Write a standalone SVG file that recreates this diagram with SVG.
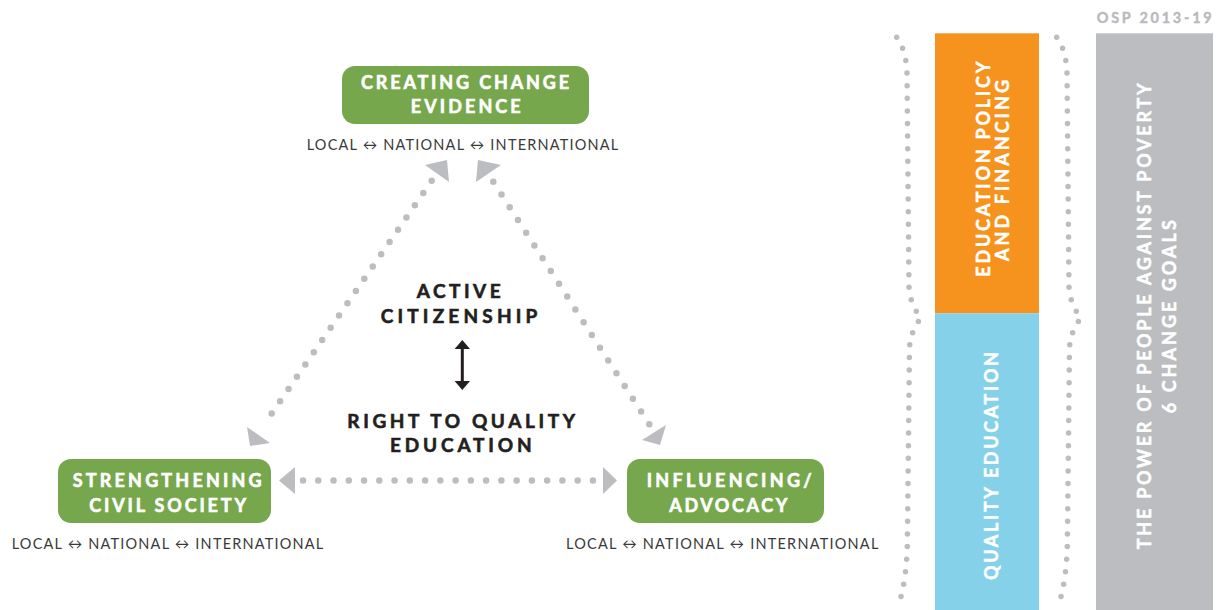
<svg xmlns="http://www.w3.org/2000/svg" width="1218" height="610" viewBox="0 0 1218 610">
<style>
.node{fill:#77a74c}
.nt{font-family:Lato,"Open Sans","Liberation Sans",sans-serif;font-weight:700;font-size:18px;fill:#ffffff;stroke:#ffffff;stroke-width:0.6;text-anchor:middle}
.sub{font-family:Lato,"Open Sans","DejaVu Sans",sans-serif;font-weight:400;font-size:14.5px;fill:#3a3a3a;text-anchor:middle}
.ct{font-family:Lato,"Open Sans","Liberation Sans",sans-serif;font-weight:700;font-size:19px;fill:#231f20;stroke:#231f20;stroke-width:0.6;text-anchor:middle}
.vt{font-family:Lato,"Open Sans","Liberation Sans",sans-serif;font-weight:700;font-size:18px;fill:#ffffff;stroke:#ffffff;stroke-width:0.5;text-anchor:middle}
.dots{fill:none;stroke:#bcbdc1;stroke-linecap:round;stroke-width:6.5}
.vdots{fill:none;stroke:#bcbdc1;stroke-linecap:round;stroke-width:5.5;stroke-dasharray:0 12.6}
.ah{fill:#bcbdc1}
</style>

<g id="bars">
<rect x="935" y="33.3" width="104" height="280" fill="#f6921e"/>
<rect x="935" y="313.3" width="104" height="297" fill="#86d1ea"/>
<rect x="1096" y="33.3" width="117" height="577" fill="#bcbdc1"/>
<text class="vt" transform="translate(989.5,169.2) rotate(-90)" textLength="215" lengthAdjust="spacing">EDUCATION POLICY</text>
<text class="vt" transform="translate(1008.5,170.5) rotate(-90)" textLength="181" lengthAdjust="spacing">AND FINANCING</text>
<text class="vt" transform="translate(998,466) rotate(-90)" textLength="228" lengthAdjust="spacing">QUALITY EDUCATION</text>
<text class="vt" transform="translate(1150.5,316.3) rotate(-90)" textLength="466" lengthAdjust="spacing">THE POWER OF PEOPLE AGAINST POVERTY</text>
<text class="vt" transform="translate(1176,316.7) rotate(-90)" textLength="193" lengthAdjust="spacing">6 CHANGE GOALS</text>
<text x="1154.2" y="22.7" font-family="Lato,'Open Sans','Liberation Sans',sans-serif" font-weight="700" font-size="14.5" fill="#b9babd" stroke="#b9babd" stroke-width="0.4" text-anchor="middle" textLength="115" lengthAdjust="spacing">OSP 2013-19</text>
</g>

<g id="connectors">
<line class="dots" x1="431.7" y1="180.7" x2="263.3" y2="425.7" stroke-dasharray="0 14.87"/>
<line class="dots" x1="493.3" y1="181.7" x2="649.3" y2="424.3" stroke-dasharray="0 15.18"/>
<line class="dots" x1="303" y1="480.5" x2="593" y2="480.5" stroke-dasharray="0 15.26"/>
<polygon class="ah" points="425,165 447,160 449,182"/>
<polygon class="ah" points="478,160 501,165 476,182"/>
<polygon class="ah" points="247,427 270,443 250,446"/>
<polygon class="ah" points="642,440 666,425 660,445"/>
<polygon class="ah" points="279,480.5 295,467 295,494"/>
<polygon class="ah" points="617,480.5 603,467 603,494"/>
<path class="vdots" d="M896.7,37.3 Q906,50 907,72 L909,288 Q910.5,305 921,318 Q910.5,331 909.5,348 L907.3,547 Q906,585 897.3,608.3"/>
<path class="vdots" d="M896.7,37.3 Q906,50 907,72 L909,288 Q910.5,305 921,318 Q910.5,331 909.5,348 L907.3,547 Q906,585 897.3,608.3" transform="translate(160,0)"/>
<g id="center-arrow" fill="#231f20" stroke="none">
<rect x="460.8" y="346" width="3" height="38"/>
<polygon points="462.3,340 470,349 454.6,349"/>
<polygon points="462.3,390 470,381 454.6,381"/>
</g>
</g>

<g id="node-evidence">
<rect class="node" x="342" y="66" width="247" height="58" rx="13"/>
<text class="nt" x="465" y="89.3" textLength="208" lengthAdjust="spacing">CREATING CHANGE</text>
<text class="nt" x="465.7" y="113.3" textLength="110" lengthAdjust="spacing">EVIDENCE</text>
<text class="sub" x="462.5" y="150" textLength="311.6" lengthAdjust="spacing">LOCAL ↔ NATIONAL ↔ INTERNATIONAL</text>
</g>

<g id="node-civil">
<rect class="node" x="58" y="459" width="213" height="64" rx="13"/>
<text class="nt" x="167.2" y="487.3" textLength="189" lengthAdjust="spacing">STRENGTHENING</text>
<text class="nt" x="167.7" y="512.3" textLength="156.7" lengthAdjust="spacing">CIVIL SOCIETY</text>
<text class="sub" x="167.5" y="549.3" textLength="311.6" lengthAdjust="spacing">LOCAL ↔ NATIONAL ↔ INTERNATIONAL</text>
</g>

<g id="node-advocacy">
<rect class="node" x="627" y="459" width="197" height="64" rx="13"/>
<text class="nt" x="729.2" y="487.3" textLength="165" lengthAdjust="spacing">INFLUENCING/</text>
<text class="nt" x="728.3" y="512.3" textLength="118" lengthAdjust="spacing">ADVOCACY</text>
<text class="sub" x="722.2" y="549.3" textLength="312.3" lengthAdjust="spacing">LOCAL ↔ NATIONAL ↔ INTERNATIONAL</text>
</g>

<g id="center">
<text class="ct" x="458.7" y="298.3" textLength="84" lengthAdjust="spacing">ACTIVE</text>
<text class="ct" x="459" y="322.7" textLength="156.6" lengthAdjust="spacing">CITIZENSHIP</text>
<text class="ct" x="461.2" y="428.3" textLength="227.7" lengthAdjust="spacing">RIGHT TO QUALITY</text>
<text class="ct" x="460.8" y="452.3" textLength="141.7" lengthAdjust="spacing">EDUCATION</text>
</g>
</svg>
